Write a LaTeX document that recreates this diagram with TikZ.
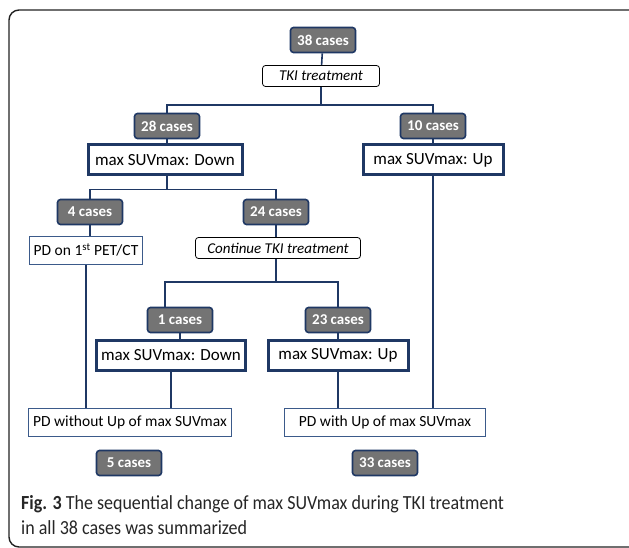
\documentclass[tikz,border=0pt]{standalone}
\usepackage{fontspec}
\setmainfont{Carlito}
\newfontfamily\capfont[FakeStretch=0.9]{Carlito}
\definecolor{navy}{HTML}{1F3864}
\definecolor{casegray}{HTML}{747474}
\definecolor{pdline}{HTML}{3B5A8A}
\definecolor{framegray}{HTML}{222222}
\tikzset{
  casebox/.style={
    rectangle, rounded corners=3pt,
    draw=navy, fill=casegray, text=white,
    minimum width=65pt, minimum height=25pt, inner sep=0pt,
    font=\fontsize{15}{17}\selectfont\bfseries,
    line width=1.6pt
  },
  markerbox/.style={
    rectangle, draw=navy, fill=white,
    minimum width=#1, minimum height=30pt, inner sep=0pt,
    font=\fontsize{17}{19}\selectfont,
    line width=3pt
  },
  markerbox/.default=150pt,
  treatbox/.style={
    rectangle, rounded corners=3pt, draw=black, fill=white,
    minimum width=#1, minimum height=21pt, inner sep=0pt,
    font=\fontsize{15}{17}\selectfont\itshape,
    line width=0.8pt
  },
  treatbox/.default=117pt,
  outcome/.style={
    rectangle, draw=pdline, fill=white,
    minimum width=#1, minimum height=28pt, inner sep=0pt,
    font=\fontsize{15.5}{17}\selectfont,
    line width=1pt
  },
  outcome/.default=200pt,
  link/.style={draw=navy, line width=1.6pt},
  caption/.style={font=\capfont\fontsize{20}{25}\selectfont, text=black!85,
    align=left, inner sep=0pt}
}
\begin{document}
\begin{tikzpicture}[x=1pt, y=-1pt]

  % Page and frame
  \useasboundingbox (0,0) rectangle (629,548);
  \clip (0,0) rectangle (629,548);
  \fill[white] (0,0) rectangle (629,548);
  \draw[framegray, line width=1.4pt, rounded corners=10pt]
    (9,10) rectangle (660,547);

  % First level
  \node[casebox] (c38) at (323,40) {38 cases};
  \node[treatbox] (tki) at (321,76) {TKI treatment};

  \node[casebox] (c28) at (167,126) {28 cases};
  \node[markerbox=154pt] (down1) at (165,160) {max SUVmax: Down};
  \node[casebox] (c10) at (433,126) {10 cases};
  \node[markerbox=140pt] (up1) at (433,160) {max SUVmax: Up};

  % Second level
  \node[casebox] (c4) at (90,212) {4 cases};
  \node[outcome=113pt] (pd1) at (86,250) {PD on 1\textsuperscript{st} PET/CT};
  \node[casebox] (c24) at (276,212) {24 cases};
  \node[treatbox=165pt] (cont) at (278,248) {Continue TKI treatment};

  % Third level
  \node[casebox] (c1) at (180,320) {1 cases};
  \node[markerbox=149pt] (down2) at (171,355) {max SUVmax: Down};
  \node[casebox] (c23) at (338,320) {23 cases};
  \node[markerbox=140pt] (up2) at (338,355) {max SUVmax: Up};

  % Outcomes
  \node[outcome=203pt] (pdwo) at (130,422) {PD without Up of max SUVmax};
  \node[outcome=201pt] (pdw) at (385,422) {PD with Up of max SUVmax};
  \node[casebox] (c5) at (129,463) {5 cases};
  \node[casebox] (c33) at (385,463) {33 cases};

  % Connectors
  \draw[link] (c38) -- (tki);
  \draw[link] (tki.south) -- ++(0,18) coordinate (j1);
  \draw[link] (c28.north) |- (j1) -| (c10.north);
  \draw[link] (c28) -- (c28 |- down1.north);
  \draw[link] (c10) -- (up1);
  \draw[link] (c28 |- down1.south) -- ++(0,13) coordinate (j2);
  \draw[link] (c4.north) |- (j2) -| (c24.north);
  \draw[link] (c4) -- (c4 |- pd1.north);
  \draw[link] (c24) -- (c24 |- cont.north);
  \draw[link] (c24 |- cont.south) -- ++(0,23) coordinate (j3);
  \draw[link] (c1.north -| down1.south) |- (j3) -| (c23.north);
  \draw[link] (c1) -- (c1 |- down2.north);
  \draw[link] (c23) -- (up2);
  \draw[link] (pd1.south) -- (pd1.south |- pdwo.north);
  \draw[link] (down2.south) -- (down2.south |- pdwo.north);
  \draw[link] (up2.south) -- (up2.south |- pdw.north);
  \draw[link] (up1.south) -- (up1.south |- pdw.north);

  % Caption
  \node[caption, anchor=north west] (cap) at (21,495)
    {\textbf{Fig. 3} The sequential change of max SUVmax during TKI treatment\\
     in all 38 cases was summarized};

\end{tikzpicture}
\end{document}
